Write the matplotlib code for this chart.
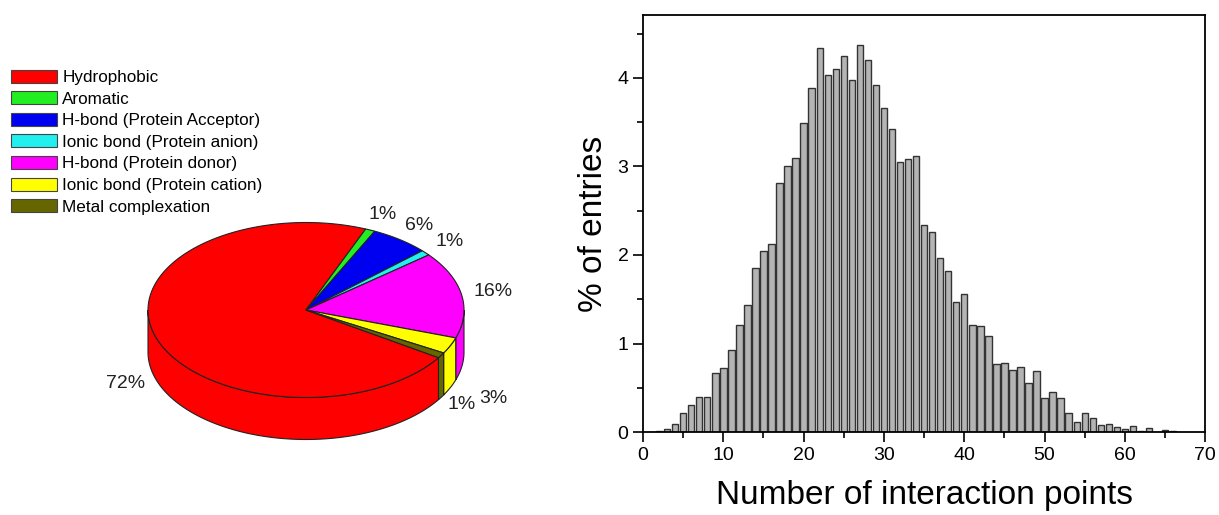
import numpy as np
import matplotlib.pyplot as plt
from matplotlib.patches import Polygon, Patch
from matplotlib.ticker import MultipleLocator

plt.rcParams['font.family'] = ['Liberation Sans', 'DejaVu Sans']

# pie data (legend order, drawn clockwise)
labels = ['Hydrophobic', 'Aromatic', 'H-bond (Protein Acceptor)', 'Ionic bond (Protein anion)',
          'H-bond (Protein donor)', 'Ionic bond (Protein cation)', 'Metal complexation']
shares = [72, 1, 6, 1, 16, 3, 1]
colors = ['#ff0000', '#22ee22', '#0000f0', '#22f0f0', '#ff00ff', '#ffff00', '#666600']

# histogram data
bin_x = list(range(1, 67))
pct = [0.005, 0.01, 0.04, 0.09, 0.21, 0.31, 0.40, 0.40, 0.67, 0.72,
       0.93, 1.21, 1.44, 1.85, 2.04, 2.12, 2.81, 3.00, 3.09, 3.49,
       3.88, 4.34, 4.03, 4.10, 4.25, 3.98, 4.37, 4.20, 3.92, 3.66,
       3.42, 3.05, 3.08, 3.12, 2.34, 2.26, 1.96, 1.82, 1.47, 1.56,
       1.21, 1.20, 1.09, 0.77, 0.78, 0.70, 0.73, 0.55, 0.69, 0.38,
       0.45, 0.39, 0.22, 0.11, 0.22, 0.16, 0.08, 0.09, 0.06, 0.04,
       0.07, 0.01, 0.045, 0.005, 0.02, 0.01]

fig = plt.figure(figsize=(12.19, 5.15), dpi=100)

# ---- 3D-look pie ----
ax = fig.add_axes([0, 0, 0.5, 1])
ax.set_xlim(0, 609.5)
ax.set_ylim(515, 0)
ax.axis('off')

cx, cy, ra, rb, depth = 306, 310, 158, 87.5, 42
start = -33
bounds = start - np.cumsum([0] + shares) * 3.6


def rim(t1, t2):
    t = np.radians(np.linspace(t1, t2, 120))
    return cx + ra * np.cos(t), cy - rb * np.sin(t)


ec = '#222222'
# side walls (front half only)
for i, c in enumerate(colors):
    hi, lo = bounds[i], bounds[i + 1]
    for k in range(-2, 2):
        a, b = max(lo, -180 + 360 * k), min(hi, 360 * k)
        if b > a:
            x, y = rim(b, a)
            pts = np.column_stack([np.r_[x, x[::-1]], np.r_[y, y[::-1] + depth]])
            ax.add_patch(Polygon(pts, closed=True, fc=c, ec=ec, lw=0.8, zorder=1))

# top face
for i, c in enumerate(colors):
    hi, lo = bounds[i], bounds[i + 1]
    x, y = rim(hi, lo)
    pts = np.column_stack([np.r_[cx, x], np.r_[cy, y]])
    ax.add_patch(Polygon(pts, closed=True, fc=c, ec=ec, lw=0.8, zorder=2))

# percentage labels (the two small lower-right ones pushed apart a bit)
label_r = [1.2, 1.2, 1.2, 1.2, 1.2, 1.3, 1.15]
for i, s in enumerate(shares):
    mid = np.radians((bounds[i] + bounds[i + 1]) / 2)
    lx = cx + label_r[i] * ra * np.cos(mid)
    ly = cy - label_r[i] * rb * np.sin(mid) + (depth if np.sin(mid) < 0 else 0)
    ax.text(lx, ly, f'{s}%', fontsize=14, ha='center', va='center', color='#222222', zorder=3)

handles = [Patch(fc=c, ec='#444444', lw=0.8) for c in colors]
fig.legend(handles, labels, loc='upper left', bbox_to_anchor=(0.009, 0.865), frameon=False,
           fontsize=12.3, handlelength=2.7, handleheight=0.8, labelspacing=0.36,
           handletextpad=0.3, borderpad=0, borderaxespad=0)

# ---- histogram ----
ax2 = fig.add_axes([0.5275, 0.161, 0.4612, 0.81])
ax2.bar(bin_x, pct, width=0.8, color='#b4b4b4', edgecolor='#333333', linewidth=1)
ax2.set_xlim(0, 70)
ax2.set_ylim(0, 4.71)
ax2.xaxis.set_major_locator(MultipleLocator(10))
ax2.xaxis.set_minor_locator(MultipleLocator(5))
ax2.yaxis.set_major_locator(MultipleLocator(1))
ax2.yaxis.set_minor_locator(MultipleLocator(0.5))
ax2.tick_params(which='major', direction='out', length=7, width=1.2, labelsize=14)
ax2.tick_params(which='minor', direction='out', length=4, width=1.2)
for sp in ax2.spines.values():
    sp.set_linewidth(1.3)
ax2.set_xlabel('Number of interaction points', fontsize=24, labelpad=12)
ax2.set_ylabel('% of entries', fontsize=24, labelpad=6)

fig.savefig('out.png', dpi=100)
